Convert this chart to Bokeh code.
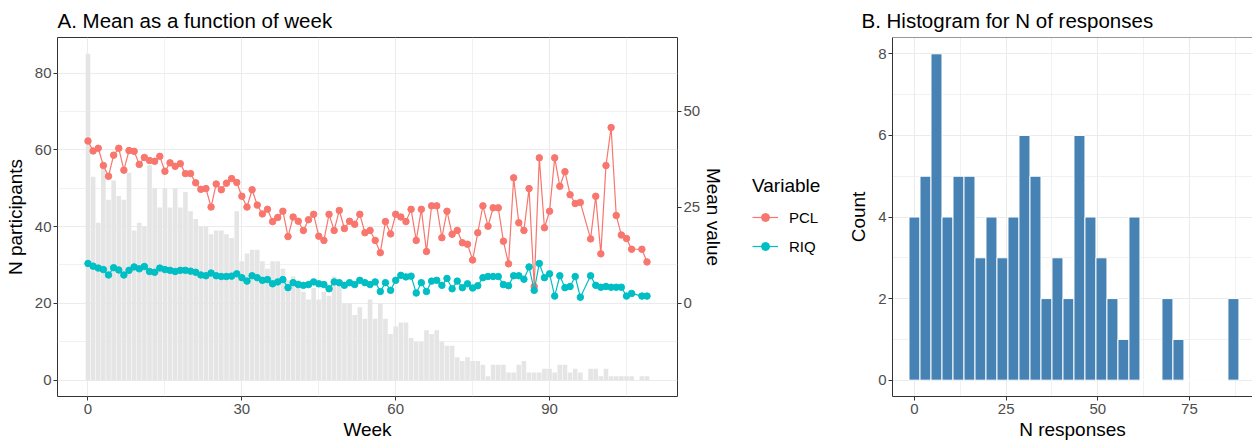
from bokeh.plotting import figure
from bokeh.models import Range1d, LinearAxis, FixedTicker, Legend, LegendItem, Span
from bokeh.layouts import row
from bokeh.embed import file_html
from bokeh.resources import INLINE

FONT = "Liberation Sans"
nan = float("nan")

# ---------------- data: panel A ----------------
weeks = list(range(110))

n_participants = [
    85, 53, 41, 55, 47, 52, 48, 47, 54, 39,
    41, 40, 56, 50, 45, 50, 45, 50, 45, 49,
    44, 42, 40, 40, 38, 39, 39, 38, 37, 44,
    31, 33, 34, 34, 31, 29, 31, 31, 29, 26,
    27, 26, 23, 21, 24, 21, 23, 22, 27, 25,
    20, 20, 17, 19, 16, 21, 16, 20, 16, 12,
    14, 15, 15, 11, 10, 10, 13, 12, 13, 10,
    9, 9, 6, 5, 6, 5, 5, 4, 1, 4,
    4, 4, 2, 2, 4, 5, 2, 2, 2, 3,
    3, 2, 4, 4, 2, 3, 2, 0, 3, 3,
    1, 3, 1, 1, 1, 1, 1, 0, 1, 1,
]

pcl_mean = [
    42.3, 39.7, 40.4, 35.9, 33.1, 38.6, 40.4, 34.7, 39.8, 39.6,
    36.2, 38.0, 37.2, 37.0, 38.3, 34.4, 36.6, 35.7, 36.4, 33.8,
    33.8, 31.4, 29.7, 29.9, 25.1, 31.1, 29.6, 31.3, 32.5, 31.5,
    27.9, 25.1, 29.6, 25.6, 23.3, 24.5, 21.3, 22.4, 24.0, 17.4,
    22.5, 21.4, 19.0, 21.8, 23.2, 17.5, 16.4, 23.2, 19.0, 24.2,
    19.5, 21.4, 20.6, 23.2, 18.4, 19.0, 16.4, 13.2, 21.3, 18.1,
    23.2, 22.5, 21.3, 24.5, 16.4, 24.5, 13.5, 25.4, 25.4, 17.1,
    24.0, 18.0, 19.0, 15.8, 15.4, 11.3, 18.4, 25.4, 20.1, 24.9,
    24.9, 16.2, 10.3, 32.7, 21.0, 19.0, 29.9, 4.4, 37.9, 19.7,
    24.0, 37.9, 30.5, 34.3, 28.3, 26.0, 26.3, nan, 16.8, 27.9,
    12.9, 35.9, 45.8, 22.9, 17.8, 16.9, 14.1, nan, 14.1, 10.8,
]

riq_mean = [
    10.4, 9.7, 9.2, 8.8, 7.4, 9.3, 8.7, 7.4, 8.6, 9.5,
    9.0, 9.6, 8.3, 8.1, 9.2, 8.8, 8.6, 8.3, 8.6, 8.6,
    8.4, 8.1, 7.4, 7.2, 7.9, 7.2, 7.0, 7.0, 7.1, 7.7,
    6.7, 5.8, 7.2, 6.7, 6.0, 6.2, 5.1, 5.6, 6.2, 4.1,
    5.4, 4.9, 4.7, 4.9, 5.6, 5.1, 4.9, 3.8, 5.6, 5.4,
    4.7, 5.4, 4.9, 6.0, 5.4, 4.9, 5.6, 3.1, 5.4, 3.4,
    6.0, 7.3, 6.9, 7.1, 2.7, 5.4, 3.1, 5.8, 6.0, 4.7,
    6.5, 3.8, 5.8, 4.1, 5.1, 4.0, 4.6, 6.7, 7.0, 7.0,
    7.0, 4.9, 4.6, 7.2, 7.2, 6.3, 9.5, 3.4, 10.4, 6.7,
    7.7, 1.9, 7.2, 4.1, 4.4, 7.0, 1.6, nan, 7.2, 4.7,
    4.2, 4.4, 4.2, 4.2, 4.2, 1.9, 2.6, nan, 1.9, 1.9,
]

series_names = ["PCL", "RIQ"]
series_colors = ["#F8766D", "#00BFC4"]
legend_title = "Variable"

week_ticks = [0, 30, 60, 90]
week_minor = [15, 45, 75, 105]
n_ticks = [0, 20, 40, 60, 80]
n_minor = [10, 30, 50, 70]
mean_ticks = [0, 25, 50]
mean_offset = 20  # secondary axis: mean value = N participants - 20

# ---------------- data: panel B ----------------
hist_centers = [0, 3, 6, 9, 12, 15, 18, 21, 24, 27, 30, 33, 36, 39, 42,
                45, 48, 51, 54, 57, 60, 63, 66, 69, 72, 75, 78, 81, 84, 87]
hist_counts = [4, 5, 8, 4, 5, 5, 3, 4, 3, 4, 6, 5, 2, 3, 2,
               6, 4, 3, 2, 1, 4, 0, 0, 2, 1, 0, 0, 0, 0, 2]
hist_binwidth = 3
resp_ticks = [0, 25, 50, 75]
resp_minor = [12.5, 37.5, 62.5, 87.5]
count_ticks = [0, 2, 4, 6, 8]
count_minor = [1, 3, 5, 7]

GRID = "#EBEBEB"
TICKLAB = "#4D4D4D"
DARK = "#333333"
TICK_FS = "15px"
LAB_FS = "19px"
TITLE_FS = "20.5px"
PT_SIZE = 6.5
LINE_W = 1.2


def style_axis(ax, label=None):
    ax.major_label_text_font = FONT
    ax.major_label_text_font_size = TICK_FS
    ax.major_label_text_color = TICKLAB
    ax.axis_label_text_font = FONT
    ax.axis_label_text_font_size = LAB_FS
    ax.axis_label_text_font_style = "normal"
    ax.axis_label_text_color = "black"
    ax.major_tick_in = 0
    ax.major_tick_out = 4
    ax.major_tick_line_color = DARK
    ax.minor_tick_line_color = None
    ax.major_label_standoff = 3
    ax.axis_label_standoff = 2
    if label is not None:
        ax.axis_label = label


def style_title(p, text, offset=0):
    p.title.text = text
    p.title.text_font = FONT
    p.title.text_font_size = TITLE_FS
    p.title.text_font_style = "normal"
    p.title.text_color = "black"
    p.title.text_line_height = 1.0
    p.title.align = "left"
    p.title.offset = offset
    p.title.standoff = 12


def style_grid(p):
    for g in (p.xgrid, p.ygrid):
        g.grid_line_color = GRID
        g.grid_line_width = 1.1
        g.minor_grid_line_color = GRID
        g.minor_grid_line_width = 0.7


# ---------------- panel A ----------------
ymin_n, ymax_n = -4.25, 89.25
p1 = figure(width=735, height=444,
            min_border_left=57, min_border_right=58,
            min_border_top=37, min_border_bottom=48,
            x_range=Range1d(-5.945, 114.945), y_range=Range1d(ymin_n, ymax_n),
            output_backend="svg", toolbar_location=None,
            background_fill_color="white", border_fill_color="white")
p1.extra_y_ranges = {"mean": Range1d(ymin_n - mean_offset, ymax_n - mean_offset)}
style_title(p1, "A. Mean as a function of week")
p1.outline_line_color = DARK
p1.outline_line_width = 1

p1.xaxis.ticker = FixedTicker(ticks=week_ticks, minor_ticks=week_minor)
p1.yaxis.ticker = FixedTicker(ticks=n_ticks, minor_ticks=n_minor)
style_axis(p1.xaxis[0], "Week")
style_axis(p1.yaxis[0], "N participants")
p1.yaxis[0].major_label_standoff = 2
p1.yaxis[0].axis_label_standoff = 6
p1.xaxis.axis_line_color = None
p1.yaxis.axis_line_color = None
style_grid(p1)

p1.vbar(x=weeks, top=n_participants, width=0.9, bottom=0,
        fill_color="#E5E5E5", line_color=None)

for name, vals, col in zip(series_names, [pcl_mean, riq_mean], series_colors):
    xs = [w for w, v in zip(weeks, vals) if v == v]
    ys = [v for v in vals if v == v]
    p1.line(xs, ys, line_color=col, line_width=LINE_W, y_range_name="mean")
    p1.scatter(xs, ys, size=PT_SIZE, fill_color=col, line_color=col,
               y_range_name="mean")

ax2 = LinearAxis(y_range_name="mean", ticker=FixedTicker(ticks=mean_ticks))
style_axis(ax2, "Mean value")
ax2.axis_line_color = None
ax2.major_label_standoff = 2
ax2.axis_label_standoff = 0
p1.add_layout(ax2, "right")

# ---------------- legend strip (key for panel A) ----------------
pl = figure(width=110, height=444, min_border=0,
            x_range=Range1d(0, 1), y_range=Range1d(0, 1),
            x_axis_location=None, y_axis_location=None,
            output_backend="svg", toolbar_location=None,
            background_fill_color="white", border_fill_color="white")
pl.outline_line_color = None
pl.grid.visible = False
legend_items = []
for name, col in zip(series_names, series_colors):
    # key glyphs only: a single undefined point so nothing is drawn in the strip
    lr = pl.line(x=[nan], y=[nan], line_color=col, line_width=LINE_W)
    sr = pl.scatter(x=[nan], y=[nan], size=PT_SIZE, fill_color=col, line_color=col)
    legend_items.append(LegendItem(label=name, renderers=[lr, sr]))

legend = Legend(items=legend_items, title=legend_title, location=(17, 140))
legend.title_text_font = FONT
legend.title_text_font_size = LAB_FS
legend.title_text_font_style = "normal"
legend.title_text_color = "black"
legend.title_standoff = 10
legend.label_text_font = FONT
legend.label_text_font_size = TICK_FS
legend.label_text_color = "black"
legend.glyph_width = 26
legend.glyph_height = 20
legend.label_height = 20
legend.label_standoff = 11
legend.spacing = 9
legend.padding = 0
legend.margin = 0
legend.border_line_color = None
legend.background_fill_alpha = 0
pl.add_layout(legend)

# ---------------- panel B ----------------
p2 = figure(width=407, height=444,
            min_border_left=47, min_border_right=0,
            min_border_top=37, min_border_bottom=48,
            x_range=Range1d(-6, 92.2), y_range=Range1d(-0.4, 8.4),
            output_backend="svg", toolbar_location=None,
            background_fill_color="white", border_fill_color="white")
style_title(p2, "B. Histogram for N of responses", offset=-31)
p2.outline_line_color = None
p2.xaxis.ticker = FixedTicker(ticks=resp_ticks, minor_ticks=resp_minor)
p2.yaxis.ticker = FixedTicker(ticks=count_ticks, minor_ticks=count_minor)
style_axis(p2.xaxis[0], "N responses")
style_axis(p2.yaxis[0], "Count")
p2.yaxis[0].major_label_standoff = 2
p2.yaxis[0].axis_label_standoff = 6
for ax in (p2.xaxis[0], p2.yaxis[0]):
    ax.axis_line_color = DARK
    ax.axis_line_width = 1
style_grid(p2)
p2.add_layout(Span(location=8.4, dimension="width", line_color=DARK, line_width=1))

p2.vbar(x=hist_centers, top=hist_counts, bottom=0, width=hist_binwidth,
        fill_color="#4682B4", line_color="white", line_width=1)

layout = row(p1, pl, p2)
open("out.html", "w").write(file_html(layout, INLINE))
